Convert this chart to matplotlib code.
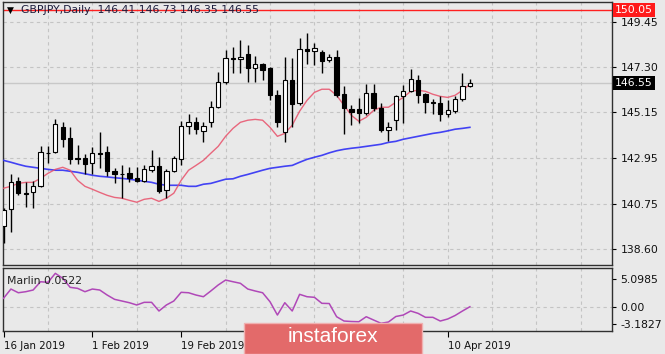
import matplotlib
matplotlib.use("Agg")
import matplotlib.pyplot as plt
import numpy as np
from matplotlib.patches import FancyBboxPatch
from matplotlib.transforms import blended_transform_factory

# ---------------- data ----------------
opens = [139.70,140.51,141.85,141.30,141.32,141.61,143.22,143.24,144.43,143.90,
         142.96,142.95,142.71,143.20,143.24,142.33,142.21,142.23,141.99,141.85,
         142.38,142.57,141.42,142.33,142.90,144.48,144.67,144.24,144.67,145.39,
         146.58,147.73,147.70,147.92,147.25,147.44,147.25,145.96,144.19,146.68,
         145.58,148.16,148.06,148.01,147.63,147.78,146.00,145.29,145.29,145.10,
         146.06,145.34,144.29,144.76,145.91,146.15,146.68,146.00,145.63,145.58,
         145.05,145.20,145.77,146.41]
highs = [140.56,142.18,142.04,141.80,141.85,143.52,143.52,144.81,144.67,144.43,
         143.57,143.14,143.47,144.19,143.52,142.47,142.61,142.52,142.52,142.61,
         143.33,143.00,142.42,143.05,144.72,145.05,144.91,144.67,145.67,147.06,
         148.11,148.25,148.59,148.35,147.82,147.50,147.30,146.20,147.78,147.73,
         148.68,148.92,148.44,148.11,147.92,148.11,146.39,145.48,145.82,146.49,
         146.50,145.58,144.67,145.96,146.44,147.20,146.92,146.06,145.77,145.91,
         145.72,145.91,147.01,146.73]
lows = [138.89,139.41,141.20,140.60,140.56,141.56,142.71,143.19,143.47,142.66,
        142.66,142.18,142.18,142.47,142.09,141.75,141.04,141.80,141.80,141.80,
        142.28,141.28,141.04,142.30,142.61,144.10,144.10,143.71,144.43,145.35,
        146.50,147.01,147.01,146.58,146.58,146.68,145.72,144.43,143.71,144.43,
        145.50,147.44,147.40,147.01,147.54,145.90,144.10,144.53,144.62,145.00,
        145.20,144.19,143.76,144.29,144.62,146.10,145.58,145.10,145.05,144.72,
        144.91,145.10,145.70,146.35]
closes = [140.46,141.80,141.28,141.25,141.61,143.24,143.18,144.57,143.86,142.90,
          142.93,142.66,143.19,143.16,142.33,142.18,142.18,141.99,141.85,142.42,
          142.57,141.37,142.33,142.95,144.48,144.67,144.33,144.48,145.39,146.58,
          147.73,147.70,147.80,147.25,147.44,147.16,145.96,144.67,146.68,145.53,
          148.16,148.06,148.20,147.58,147.78,145.96,145.34,145.15,145.10,146.06,
          145.34,144.29,144.43,145.91,146.15,146.72,145.96,145.63,145.60,145.05,
          145.24,145.77,146.39,146.55]

ma_fast = [141.52,141.61,141.75,141.80,141.80,141.99,142.23,142.42,142.52,142.38,
           141.90,141.61,141.47,141.32,141.18,141.08,141.04,140.94,140.85,140.99,
           141.04,140.89,141.04,141.28,141.90,142.38,142.61,142.85,143.19,143.52,
           144.00,144.38,144.67,144.77,144.81,144.77,144.43,144.00,144.14,144.53,
           145.20,145.72,146.10,146.25,146.25,145.96,145.48,145.00,144.72,144.91,
           145.24,145.39,145.39,145.63,145.86,146.15,146.20,146.15,146.01,145.91,
           145.86,145.96,146.20,146.49]
ma_slow = [142.85,142.76,142.66,142.57,142.52,142.47,142.42,142.38,142.38,142.33,
           142.28,142.21,142.14,142.09,142.06,142.02,141.99,141.95,141.90,141.85,
           141.80,141.71,141.66,141.66,141.66,141.61,141.61,141.71,141.75,141.85,
           141.95,141.97,142.09,142.18,142.28,142.38,142.47,142.52,142.57,142.61,
           142.76,142.90,143.00,143.09,143.21,143.31,143.38,143.43,143.47,143.52,
           143.57,143.62,143.71,143.76,143.86,143.93,144.00,144.07,144.14,144.19,
           144.26,144.34,144.38,144.43]
marlin = [1.60,3.30,2.62,2.81,3.12,4.64,4.53,6.18,5.27,3.61,
          3.43,2.81,3.30,3.12,2.20,1.41,1.10,0.79,0.37,0.86,
          0.86,-0.73,0.37,1.10,2.70,2.62,2.20,1.89,2.94,4.04,
          4.95,4.64,4.35,3.30,2.94,2.62,0.97,-1.47,0.79,-0.73,
          2.33,1.89,1.78,0.68,0.64,-1.78,-2.57,-2.66,-2.70,-1.78,
          -2.39,-2.99,-2.75,-1.74,-1.47,-0.73,-1.16,-1.89,-1.89,-2.57,
          -2.20,-1.56,-0.73,0.05]

price_ticks = [138.60, 140.75, 142.95, 145.15, 147.30, 149.45]
osc_ticks = [-3.1827, 0.0, 5.0985]
osc_tick_labels = ["-3.1827", "0.00", "5.0985"]
# labels at bars 36 and 48 are hidden under the watermark in the reference
date_idx = [0, 12, 24, 36, 48, 60]
date_labels = ["16 Jan 2019", "1 Feb 2019", "19 Feb 2019", "", "", "10 Apr 2019"]
resistance = 150.05
last_price = 146.55
title = "GBPJPY,Daily  146.41 146.73 146.35 146.55"
osc_name = "Marlin 0.0522"

# ---------------- layout ----------------
W, H = 665, 354
BG = "#e9e9e9"
fig = plt.figure(figsize=(W / 100, H / 100), dpi=100, facecolor=BG)
plt.rcParams["font.family"] = ["DejaVu Sans"]

def frac(x0, y0, x1, y1):
    return [x0 / W, 1 - y1 / H, (x1 - x0) / W, (y1 - y0) / H]

ax = fig.add_axes(frac(3, 2, 612, 265), facecolor=BG)
ax2 = fig.add_axes(frac(3, 268, 612, 331), facecolor=BG)

x = np.arange(len(opens))
x_lo, x_hi = -0.07, 82.2
for a in (ax, ax2):
    a.set_xlim(x_lo, x_hi)
    for s in a.spines.values():
        s.set_color("#303030")
        s.set_linewidth(1.0)
    a.set_xticks([i for i in range(6, 84, 6)], minor=True)
    a.tick_params(axis="x", which="minor", length=0)
    a.grid(True, which="minor", axis="x", color="#c4c4c4", linestyle=(0, (3, 3)), linewidth=0.8)

ax.set_ylim(137.85, 150.42)
ax2.set_ylim(-4.40, 7.16)

# price grid
for p in price_ticks:
    ax.axhline(p, color="#c4c4c4", linestyle=(0, (3, 3)), linewidth=0.8, zorder=0)
ax2.axhline(0.0, color="#c4c4c4", linestyle=(0, (3, 3)), linewidth=0.8, zorder=0)

# current price / resistance lines
ax.axhline(last_price, color="#c8c8c8", linewidth=1.0, zorder=1)
ax.axhline(resistance, color="#ff2020", linewidth=1.0, zorder=2)

# moving averages
ax.plot(x, ma_slow, color="#3030f5", linewidth=1.2, alpha=0.9, zorder=3)
ax.plot(x, ma_fast, color="#e8506a", linewidth=1.0, alpha=0.85, zorder=3)

# candles
o = np.array(opens); c = np.array(closes)
ax.vlines(x, lows, highs, color="black", linewidth=1.0, zorder=4)
bottoms = np.minimum(o, c)
heights = np.maximum(np.abs(c - o), 0.04)
colors = ["white" if cc >= oo else "black" for oo, cc in zip(o, c)]
ax.bar(x, heights, bottom=bottoms, width=0.58, color=colors, edgecolor="black",
       linewidth=0.8, zorder=5)

# oscillator
ax2.plot(x, marlin, color="#b048b8", linewidth=1.1, zorder=3)

# ticks
ax.yaxis.tick_right()
ax.set_yticks(price_ticks)
ax.set_yticklabels([f"{p:.2f}" for p in price_ticks])
ax.set_xticks([])
ax.tick_params(axis="y", direction="out", length=3, width=0.8, pad=3,
               labelsize=7.8, colors="black", labelcolor="#111111")

ax2.yaxis.tick_right()
ax2.set_yticks(osc_ticks)
ax2.set_yticklabels(osc_tick_labels)
ax2.tick_params(axis="y", direction="out", length=3, width=0.8, pad=3,
                labelsize=7.8, labelcolor="#111111")
ax2.set_xticks(date_idx)
ax2.set_xticklabels(date_labels, ha="left")
ax2.tick_params(axis="x", which="major", direction="out", length=4, width=0.8, pad=3,
                labelsize=7.4, labelcolor="#111111")

# price boxes on the right
tr = blended_transform_factory(ax.transAxes, ax.transData)
ax.text(1.005, resistance, f"{resistance:.2f}", transform=tr, ha="left", va="center",
        fontsize=7.8, color="white", zorder=10, clip_on=False,
        bbox=dict(boxstyle="square,pad=0.18", facecolor="#ff1a1a", edgecolor="none"))
ax.text(1.005, last_price, f"{last_price:.2f}", transform=tr, ha="left", va="center",
        fontsize=7.8, color="white", zorder=10, clip_on=False,
        bbox=dict(boxstyle="square,pad=0.18", facecolor="black", edgecolor="none"))

# header texts
ax.text(0.007, 0.968, "\u25bc", transform=ax.transAxes, fontsize=6.5, color="black",
        va="center", ha="left", zorder=10)
ax.text(0.030, 0.968, title, transform=ax.transAxes, fontsize=7.8, color="#1c1c3c",
        va="center", ha="left", zorder=10)
ax2.text(0.007, 0.80, osc_name, transform=ax2.transAxes, fontsize=7.8, color="#222222",
         va="center", ha="left", zorder=10)

# watermark
wm = FancyBboxPatch((244 / W, 0.0), 178 / W, 31 / H, boxstyle="square,pad=0",
                    transform=fig.transFigure, facecolor="#e36a6a", edgecolor="#f0b0b0",
                    linewidth=1.0, zorder=20)
fig.patches.append(wm)
fig.text(333 / W, 1 - 337 / H, "instaforex", ha="center", va="center",
         fontsize=15, color="white", family=["Liberation Sans", "DejaVu Sans"], zorder=21)

fig.savefig("out.png", dpi=100, facecolor=BG)
